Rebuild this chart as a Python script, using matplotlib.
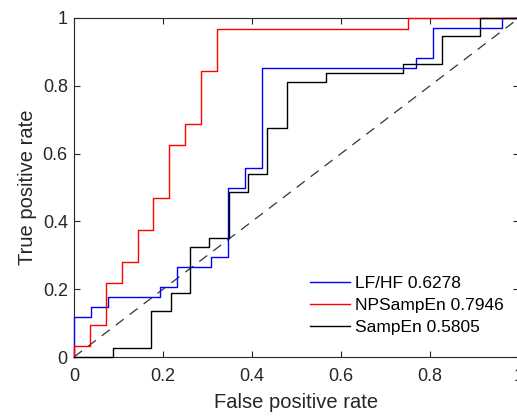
"""ROC curves for LF/HF, NPSampEn and SampEn."""
import matplotlib
matplotlib.use("Agg")
import matplotlib.pyplot as plt
import numpy as np

plt.rcParams['font.family'] = ['Liberation Sans', 'DejaVu Sans']

# ROC corner points as counts of false positives / true positives
# LF/HF: 26 negatives, 34 positives
lfhf_fp = [0, 0, 1, 1, 2, 2, 5, 5, 6, 6, 8, 8, 9, 9, 10, 10, 11, 11,
           20, 20, 21, 21, 25, 25, 26]
lfhf_tp = [0, 4, 4, 5, 5, 6, 6, 7, 7, 9, 9, 10, 10, 17, 17, 19, 19, 29,
           29, 30, 30, 33, 33, 34, 34]
lfhf_n, lfhf_p = 26, 34

# NPSampEn: 28 negatives, 32 positives
np_fp = [0, 0, 1, 1, 2, 2, 3, 3, 4, 4, 5, 5, 6, 6, 7, 7, 8, 8, 9, 9,
         21, 21, 28]
np_tp = [0, 1, 1, 3, 3, 7, 7, 9, 9, 12, 12, 15, 15, 20, 20, 22, 22, 27,
         27, 31, 31, 32, 32]
np_n, np_p = 28, 32

# SampEn: 23 negatives, 37 positives
se_fp = [0, 2, 2, 4, 4, 5, 5, 6, 6, 7, 7, 8, 8, 9, 9, 10, 10, 11, 11,
         13, 13, 17, 17, 19, 19, 21, 21, 23]
se_tp = [0, 0, 1, 1, 5, 5, 7, 7, 12, 12, 13, 13, 18, 18, 20, 20, 25, 25,
         30, 30, 31, 31, 32, 32, 35, 35, 37, 37]
se_n, se_p = 23, 37

labels = ['LF/HF 0.6278', 'NPSampEn 0.7946', 'SampEn 0.5805']
colors = ['#0000ff', '#ff0000', '#000000']
tick_vals = [0, 0.2, 0.4, 0.6, 0.8, 1]
tick_text = ['0', '0.2', '0.4', '0.6', '0.8', '1']

W, H = 517, 416
fig = plt.figure(figsize=(W / 100, H / 100), dpi=100)
# axes run slightly past the right edge, like the cropped original
ax = fig.add_axes([74 / W, (H - 357) / H, 445 / W, 339 / H])

curves = [(lfhf_fp, lfhf_tp, lfhf_n, lfhf_p),
          (np_fp, np_tp, np_n, np_p),
          (se_fp, se_tp, se_n, se_p)]
for (fp, tp, n, p), col, lab in zip(curves, colors, labels):
    ax.plot(np.array(fp) / n, np.array(tp) / p, color=col, lw=1.0,
            label=lab, clip_on=False, zorder=3)
ax.plot([0, 1], [0, 1], color='#333333', lw=0.9, dashes=(8, 6))

ax.set_xlim(0, 1)
ax.set_ylim(0, 1)
ax.set_xticks(tick_vals)
ax.set_yticks(tick_vals)
ax.set_xticklabels(tick_text)
ax.set_yticklabels(tick_text)

tc = '#262626'
for s in ax.spines.values():
    s.set_color(tc)
    s.set_linewidth(0.8)
ax.tick_params(direction='in', length=4, width=0.8, colors=tc,
               labelsize=13, top=True, right=True)
ax.tick_params(axis='x', pad=8)
ax.tick_params(axis='y', pad=4.5)
ax.set_xlabel('False positive rate', fontsize=14.5, color=tc, labelpad=6)
ax.set_ylabel('True positive rate', fontsize=14.5, color=tc, labelpad=4)

ax.legend(loc='upper left', bbox_to_anchor=(310 / W, 1 - 276 / H),
          bbox_transform=fig.transFigure, frameon=False, fontsize=12.5,
          handlelength=2.3, handletextpad=0.3, labelspacing=0.38,
          borderpad=0, borderaxespad=0)

fig.savefig('out.png', dpi=100)
